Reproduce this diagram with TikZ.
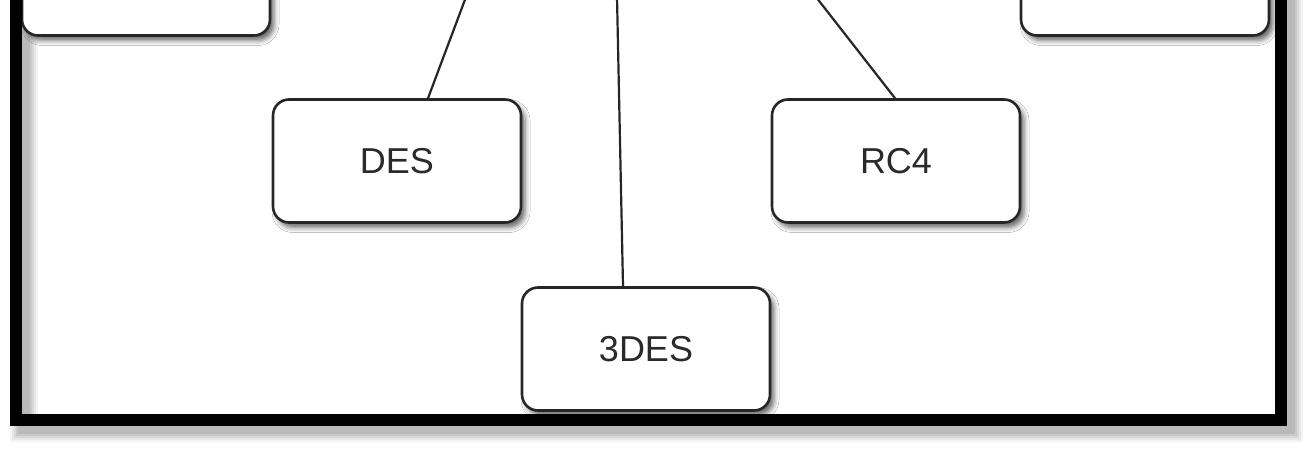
\documentclass[tikz,border=0pt]{standalone}
\usepackage{fontspec}
\setmainfont{Liberation Sans}
\usetikzlibrary{shadows.blur}
\definecolor{edge}{HTML}{262626}
\definecolor{txt}{HTML}{2A2A2A}
\tikzset{
  algbox/.style={draw=edge, line width=2.6pt, rounded corners=16pt, fill=white,
    minimum width=248pt, minimum height=123pt, inner sep=0pt,
    font=\fontsize{36}{40}\selectfont, text=txt,
    blur shadow={shadow xshift=4pt, shadow yshift=-5pt, shadow blur radius=5pt, shadow opacity=60}},
  link/.style={draw=edge, line width=2.2pt},
  framestroke/.style={draw=black, line width=12.5pt},
}
\begin{document}
\begin{tikzpicture}[x=1pt,y=-1pt]
\useasboundingbox (0,0) rectangle (1313,454);
\clip (0,0) rectangle (1313,454);
\fill[white] (0,0) rectangle (1313,454);
% frame shadow (blurred, offset)
\foreach \w/\o in {28/0.07,24/0.09,20/0.11,16/0.13,12/0.16}{
  \draw[black!60, opacity=\o, line width=\w pt] (24,-40) rectangle (1289,428);
}
% boxes
\node[algbox] (tl) at (146,-26) {};
\node[algbox] (tr) at (1145,-26) {};
\node[algbox] (des) at (397,161) {DES};
\node[algbox] (rc4) at (896,161) {RC4};
\node[algbox] (tdes) at (646,349) {3DES};
% connector free ends (parent lies above the picture)
\coordinate (pd) at (466,-3);
\coordinate (pt) at (617,-3);
\coordinate (pr) at (816,-3);
\draw[link] (des.north -| 428,0) -- (pd);
\draw[link] (tdes.north -| 623,0) -- (pt);
\draw[link] (rc4.north -| 895,0) -- (pr);
% frame
\draw[framestroke] (16,-40) rectangle (1281,420);
\end{tikzpicture}
\end{document}
